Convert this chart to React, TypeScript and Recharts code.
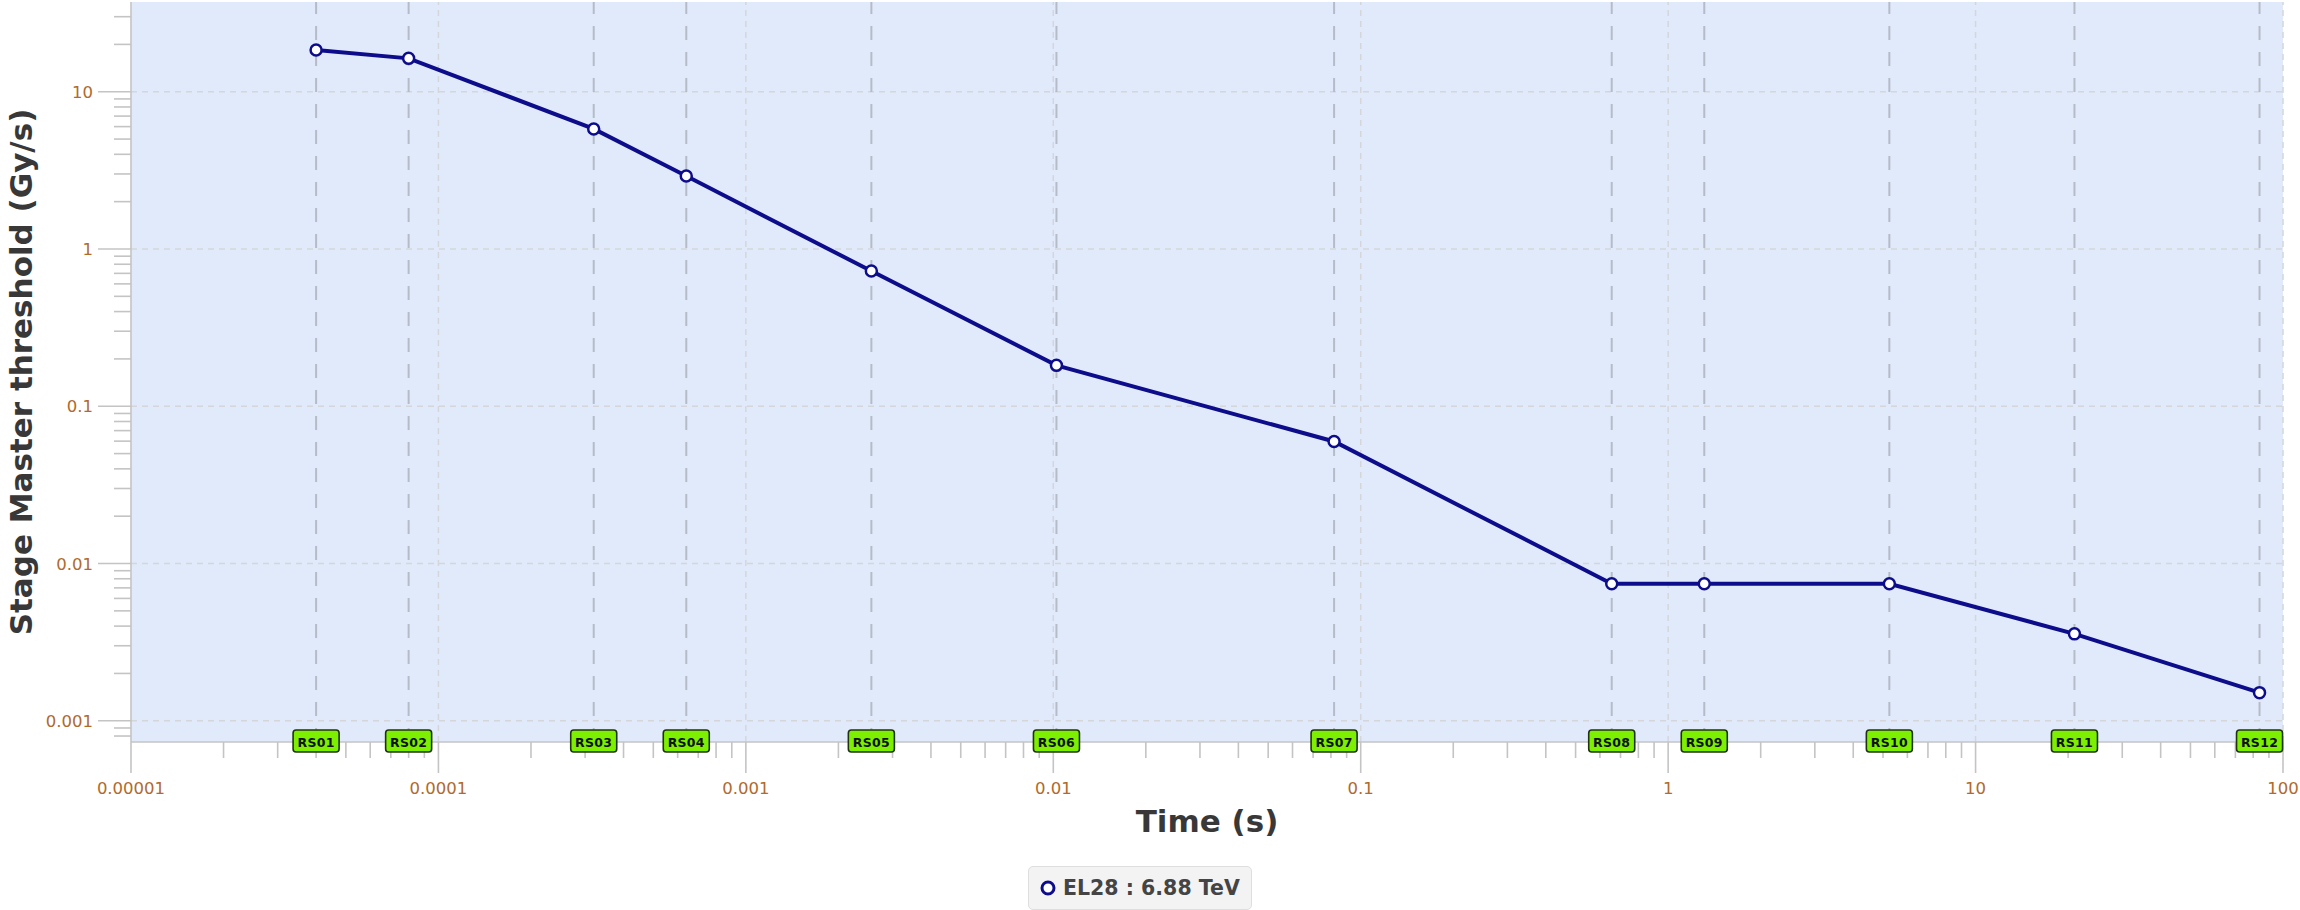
import React from "react";
import {
  CartesianGrid,
  Legend,
  Line,
  LineChart,
  ReferenceLine,
  XAxis,
  YAxis,
} from "recharts";

// running sums (integration times) and their thresholds
const stages = ["RS01", "RS02", "RS03", "RS04", "RS05", "RS06", "RS07", "RS08", "RS09", "RS10", "RS11", "RS12"];
const times = [4e-5, 8e-5, 3.2e-4, 6.4e-4, 2.56e-3, 1.024e-2, 8.192e-2, 0.65536, 1.31072, 5.24288, 20.97152, 83.88608];
const thresholds = [18.4, 16.3, 5.8, 2.91, 0.724, 0.182, 0.0597, 0.00743, 0.00743, 0.00743, 0.00357, 0.00151];
const seriesName = "EL28 : 6.88 TeV";

const xDecades = [1e-5, 1e-4, 1e-3, 1e-2, 1e-1, 1, 10, 100];
const xTickLabels = ["0.00001", "0.0001", "0.001", "0.01", "0.1", "1", "10", "100"];
const yDecades = [0.001, 0.01, 0.1, 1, 10];
const yTickLabels = ["0.001", "0.01", "0.1", "1", "10"];
const yDomain = [0.000733, 37.2];

const FONT = "'DejaVu Sans', sans-serif";
const LINE = "#0d0d8c";
const TICK_TEXT = "#b06a2c";
const AXIS = "#c4c4c4";

const minorSteps = [2, 3, 4, 5, 6, 7, 8, 9];

const xTicks = [
  ...xDecades,
  ...xDecades.slice(0, -1).flatMap((d) => minorSteps.map((m) => d * m)),
];
const yTicks = [
  ...yDecades,
  ...[0.0001, ...yDecades]
    .flatMap((d) => minorSteps.map((m) => d * m))
    .filter((v) => v > yDomain[0] && v < yDomain[1]),
];

const data = times.map((t, i) => ({ t, v: thresholds[i], stage: stages[i] }));

function isDecade(v: number) {
  const l = Math.log10(v);
  return Math.abs(l - Math.round(l)) < 1e-6;
}

function XTick({ x, y, payload }: any) {
  const v = payload.value;
  const major = isDecade(v);
  const idx = xDecades.findIndex((d) => Math.abs(Math.log10(d) - Math.log10(v)) < 1e-6);
  return (
    <g>
      <line x1={x} x2={x} y1={y} y2={y + (major ? 31 : 16)} stroke={AXIS} strokeWidth={1.6} />
      {major && idx >= 0 && (
        <text x={x} y={y + 52} textAnchor="middle" fill={TICK_TEXT} fontSize={16.5} fontFamily={FONT}>
          {xTickLabels[idx]}
        </text>
      )}
    </g>
  );
}

function YTick({ x, y, payload }: any) {
  const v = payload.value;
  const major = isDecade(v);
  const idx = yDecades.findIndex((d) => Math.abs(Math.log10(d) - Math.log10(v)) < 1e-6);
  return (
    <g>
      <line x1={x - (major ? 33 : 17)} x2={x} y1={y} y2={y} stroke={AXIS} strokeWidth={1.6} />
      {major && idx >= 0 && (
        <text x={x - 38} y={y + 6} textAnchor="end" fill={TICK_TEXT} fontSize={16.5} fontFamily={FONT}>
          {yTickLabels[idx]}
        </text>
      )}
    </g>
  );
}

function YTitle({ viewBox }: any) {
  const cx = 32;
  const cy = viewBox.y + viewBox.height / 2;
  return (
    <text
      x={cx}
      y={cy}
      transform={`rotate(-90 ${cx} ${cy})`}
      textAnchor="middle"
      fill="#383838"
      fontSize={31}
      fontWeight="bold"
      fontFamily={FONT}
    >
      Stage Master threshold (Gy/s)
    </text>
  );
}

function XTitle({ viewBox }: any) {
  const cx = viewBox.x + viewBox.width / 2;
  return (
    <text x={cx} y={viewBox.y + 90} textAnchor="middle" fill="#383838" fontSize={31} fontWeight="bold" fontFamily={FONT}>
      Time (s)
    </text>
  );
}

function RSBadge({ viewBox, text }: any) {
  const cx = viewBox.x + (viewBox.width || 0) / 2;
  const bottom = viewBox.y + viewBox.height;
  return (
    <g>
      <rect x={cx - 23} y={bottom - 12} width={46} height={22} rx={3} fill="#7cf000" stroke="#1f3310" strokeWidth={1.6} />
      <text
        x={cx}
        y={bottom + 4.5}
        textAnchor="middle"
        fontSize={12.5}
        fontWeight="bold"
        letterSpacing={0.3}
        fontFamily={FONT}
        fill="#111"
      >
        {text}
      </text>
    </g>
  );
}

function LegendBox({ payload }: any) {
  const label = payload && payload.length ? payload[0].value : seriesName;
  return (
    <div
      style={{
        boxSizing: "border-box",
        width: 224,
        height: 44,
        background: "#f3f3f3",
        border: "1px solid #dedede",
        borderRadius: 5,
        display: "flex",
        alignItems: "center",
        paddingLeft: 10,
        fontFamily: FONT,
        fontWeight: "bold",
        fontSize: 20.5,
        color: "#444",
      }}
    >
      <svg width={18} height={18} style={{ marginRight: 6 }}>
        <circle cx={9} cy={9} r={6} fill="#fff" stroke={LINE} strokeWidth={3} />
      </svg>
      {label}
    </div>
  );
}

export default function App() {
  return (
    <div style={{ position: "absolute", left: 0, top: 0, width: 2300, height: 910, background: "#fff" }}>
      <LineChart width={2300} height={910} data={data} margin={{ top: 2, right: 17, bottom: 0, left: 0 }}>
        <CartesianGrid fill="#e1eafb" stroke="none" horizontal={false} vertical={false} />
        {yDecades.map((d) => (
          <ReferenceLine key={`gy${d}`} y={d} stroke="#d4d6da" strokeWidth={1.5} strokeDasharray="6 5" />
        ))}
        {xDecades.slice(1).map((d) => (
          <ReferenceLine key={`gx${d}`} x={d} stroke="#d4d6da" strokeWidth={1.5} strokeDasharray="6 5" />
        ))}
        <XAxis
          type="number"
          dataKey="t"
          scale="log"
          domain={[xDecades[0], xDecades[xDecades.length - 1]]}
          ticks={xTicks}
          interval={0}
          tickSize={0}
          tickMargin={0}
          tickLine={false}
          tick={(p: any) => <XTick {...p} />}
          axisLine={{ stroke: AXIS, strokeWidth: 1.6 }}
          height={168}
          label={<XTitle />}
        />
        <YAxis
          type="number"
          scale="log"
          domain={yDomain}
          allowDataOverflow
          ticks={yTicks}
          interval={0}
          tickSize={0}
          tickMargin={0}
          tickLine={false}
          tick={(p: any) => <YTick {...p} />}
          axisLine={{ stroke: AXIS, strokeWidth: 1.6 }}
          width={131}
          label={<YTitle />}
        />
        {times.map((t, i) => (
          <ReferenceLine key={stages[i]} x={t} stroke="#b5bcc8" strokeWidth={2} strokeDasharray="14 12" />
        ))}
        <Line
          type="linear"
          dataKey="v"
          name={seriesName}
          stroke={LINE}
          strokeWidth={4}
          dot={{ r: 5.5, fill: "#fff", stroke: LINE, strokeWidth: 2.5 }}
          isAnimationActive={false}
        />
        {times.map((t, i) => (
          <ReferenceLine
            key={`badge-${stages[i]}`}
            x={t}
            stroke="none"
            zIndex={2500}
            label={<RSBadge text={stages[i]} />}
          />
        ))}
        <Legend
          verticalAlign="middle"
          align="center"
          layout="horizontal"
          content={<LegendBox />}
          wrapperStyle={{ top: 866, left: 1028, width: 224, height: 44 }}
        />
      </LineChart>
    </div>
  );
}
